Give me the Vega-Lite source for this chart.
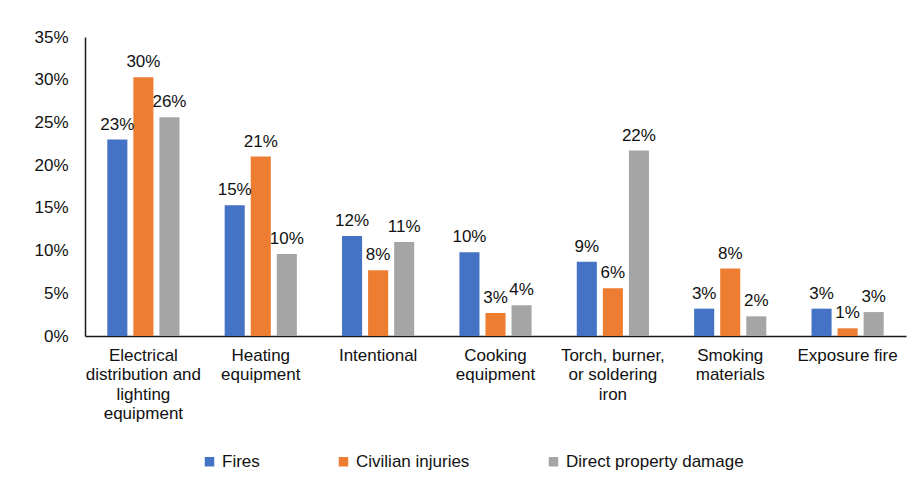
{
  "$schema": "https://vega.github.io/schema/vega-lite/v6.json",
  "width": 821,
  "height": 299,
  "padding": {"left": 33, "top": 28, "right": 5, "bottom": 5},
  "background": "white",
  "config": {
    "font": "Liberation Sans",
    "view": {"stroke": null},
    "axis": {"labelFont": "Liberation Sans", "labelFontSize": 17, "labelColor": "#111111", "grid": false, "ticks": false, "domainColor": "#1a1a1a", "domainWidth": 1.5, "title": null},
    "legend": {"labelFont": "Liberation Sans", "labelFontSize": 17, "labelColor": "#111111", "labelLimit": 400}
  },
  "data": {
    "values": [
      {"cause": "Electrical distribution and lighting equipment", "series": "Fires", "share": 0.23},
      {"cause": "Electrical distribution and lighting equipment", "series": "Civilian injuries", "share": 0.303},
      {"cause": "Electrical distribution and lighting equipment", "series": "Direct property damage", "share": 0.256},
      {"cause": "Heating equipment", "series": "Fires", "share": 0.153},
      {"cause": "Heating equipment", "series": "Civilian injuries", "share": 0.21},
      {"cause": "Heating equipment", "series": "Direct property damage", "share": 0.096},
      {"cause": "Intentional", "series": "Fires", "share": 0.117},
      {"cause": "Intentional", "series": "Civilian injuries", "share": 0.077},
      {"cause": "Intentional", "series": "Direct property damage", "share": 0.11},
      {"cause": "Cooking equipment", "series": "Fires", "share": 0.098},
      {"cause": "Cooking equipment", "series": "Civilian injuries", "share": 0.027},
      {"cause": "Cooking equipment", "series": "Direct property damage", "share": 0.036},
      {"cause": "Torch, burner, or soldering iron", "series": "Fires", "share": 0.087},
      {"cause": "Torch, burner, or soldering iron", "series": "Civilian injuries", "share": 0.056},
      {"cause": "Torch, burner, or soldering iron", "series": "Direct property damage", "share": 0.217},
      {"cause": "Smoking materials", "series": "Fires", "share": 0.032},
      {"cause": "Smoking materials", "series": "Civilian injuries", "share": 0.079},
      {"cause": "Smoking materials", "series": "Direct property damage", "share": 0.023},
      {"cause": "Exposure fire", "series": "Fires", "share": 0.032},
      {"cause": "Exposure fire", "series": "Civilian injuries", "share": 0.009},
      {"cause": "Exposure fire", "series": "Direct property damage", "share": 0.028}
    ]
  },
  "encoding": {
    "x": {
      "field": "cause", "type": "nominal", "sort": null,
      "scale": {"paddingInner": 0.385, "paddingOuter": 0.19},
      "axis": {
        "labelAngle": 0, "labelPadding": 11, "labelLineHeight": 19.5, "labelBaseline": "top",
        "labelExpr": "datum.value == 'Electrical distribution and lighting equipment' ? ['Electrical','distribution and','lighting','equipment'] : datum.value == 'Heating equipment' ? ['Heating','equipment'] : datum.value == 'Cooking equipment' ? ['Cooking','equipment'] : datum.value == 'Torch, burner, or soldering iron' ? ['Torch, burner,','or soldering','iron'] : datum.value == 'Smoking materials' ? ['Smoking','materials'] : datum.value"
      }
    },
    "xOffset": {
      "field": "series", "type": "nominal",
      "sort": ["Fires", "Civilian injuries", "Direct property damage"],
      "scale": {"paddingInner": 0.23, "paddingOuter": 0}
    },
    "y": {
      "field": "share", "type": "quantitative",
      "scale": {"domain": [0, 0.35], "nice": false},
      "axis": {"format": ".0%", "values": [0, 0.05, 0.1, 0.15, 0.2, 0.25, 0.3, 0.35], "labelPadding": 17}
    }
  },
  "layer": [
    {
      "mark": {"type": "bar"},
      "encoding": {
        "color": {
          "field": "series", "type": "nominal",
          "sort": ["Fires", "Civilian injuries", "Direct property damage"],
          "scale": {"domain": ["Fires", "Civilian injuries", "Direct property damage"], "range": ["#4472C4", "#ED7D31", "#A5A5A5"]},
          "legend": {"orient": "none", "legendX": 116, "legendY": 416, "direction": "horizontal", "title": null, "symbolType": "square", "symbolSize": 90, "symbolStrokeWidth": 0, "columnPadding": 75, "labelOffset": 4}
        }
      }
    },
    {
      "mark": {"type": "text", "baseline": "bottom", "dy": -6, "fontSize": 17, "color": "#111111", "font": "Liberation Sans"},
      "encoding": {
        "text": {"field": "share", "type": "quantitative", "format": ".0%"}
      }
    }
  ]
}
